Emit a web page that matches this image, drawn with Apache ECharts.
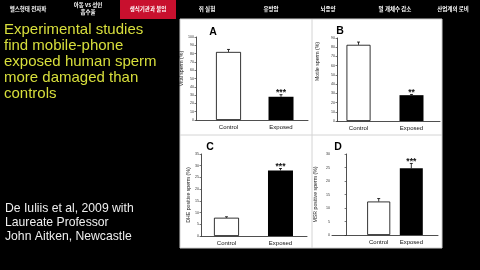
<!DOCTYPE html>
<html><head><meta charset="utf-8">
<script src="https://cdn.jsdelivr.net/npm/echarts@6/dist/echarts.min.js"></script>
<style>html,body{margin:0;padding:0;background:#000;}#c{width:480px;height:270px;}</style>
</head><body><div id="c"></div>
<script>
// ---- data ----
const categories = ['Control', 'Exposed'];
const panelLetters = ['A', 'B', 'C', 'D'];
const yNames = ['Vital sperm (%)', 'Motile sperm (%)', 'DHE positive sperm (%)', 'MSR positive sperm (%)'];
const meanA = [82, 28];   const errA = [3, 2.5];
const meanB = [82.6, 28]; const errB = [3, 0.8];
const meanC = [7.8, 28];  const errC = [0.4, 0.8];
const meanD = [12.4, 24.7]; const errD = [1.1, 1.8];
const sigA = ['', '***'];
const sigB = ['', '**'];
const sigC = ['', '***'];
const sigD = ['', '***'];
const yMax = [100, 90, 35, 30];
const yStep = [10, 10, 5, 5];
const menuLabels = ['헬스형태 전자파', '아동 vs 성인\n흡수율', '생식기관과 불임', '쥐 실험', '유방암', '뇌종양', '벌 개체수 감소', '산업계의 로비'];
const headline = ['Experimental studies', 'find mobile-phone', 'exposed human sperm', 'more damaged than', 'controls'];
const credit = ['De Iuliis et al, 2009 with', 'Laureate Professor', 'John Aitken, Newcastle'];

// ---- layout ----
const means = [meanA, meanB, meanC, meanD];
const errs = [errA, errB, errC, errD];
const sigs = [sigA, sigB, sigC, sigD];
const grids = [
  {left: 196, top: 37, width: 112, height: 83},
  {left: 337, top: 38, width: 103, height: 83},
  {left: 201, top: 154, width: 106, height: 82},
  {left: 332, top: 154, width: 106, height: 81}
];
const xRange = [[0.381, 2.514], [0.594, 2.538], [0.528, 2.491], [-0.433, 2.819]];
const barW = [25, 24, 25, 23];
const nameGaps = [7.5, 17, 9.5, 13.5];
const nameShift = [20, 36, 0, 0];
const letterPos = [[213, 32], [340, 31], [210, 147], [338, 147]];
const menuX = [28, 88, 148, 207, 271, 328, 395, 453];
const FONT = 'Liberation Sans';

const chart = echarts.init(document.getElementById('c'), null, {renderer: 'canvas'});

const xAxis = [], yAxis = [], series = [];
grids.forEach((g, i) => {
  xAxis.push({
    type: 'value', gridIndex: i, min: xRange[i][0], max: xRange[i][1],
    axisLine: {show: true, onZero: false, lineStyle: {color: '#222', width: 0.8}},
    axisTick: {show: false}, splitLine: {show: false},
    axisLabel: {customValues: [1, 2], formatter: v => categories[Math.round(v) - 1] || '',
      fontSize: 6, color: '#111', margin: 4, fontFamily: FONT}
  });
  yAxis.push({
    type: 'value', gridIndex: i, min: 0, max: yMax[i], interval: yStep[i],
    axisLine: {show: true, lineStyle: {color: '#222', width: 0.8}},
    axisTick: {show: true, length: 1.5, lineStyle: {color: '#222', width: 0.6}},
    splitLine: {show: false},
    axisLabel: {fontSize: 3.6, color: '#333', margin: 2, fontFamily: FONT},
    name: yNames[i], nameLocation: 'middle', nameGap: nameGaps[i],
    nameTextStyle: {fontSize: 5.2, color: '#222', fontFamily: FONT, padding: [0, 0, 0, nameShift[i]]}
  });
  series.push({
    type: 'bar', xAxisIndex: i, yAxisIndex: i, barWidth: barW[i], silent: true,
    data: means[i].map((m, k) => ({
      value: [k + 1, m],
      itemStyle: k === 0 ? {color: '#fff', borderColor: '#000', borderWidth: 0.8} : {color: '#000'}
    }))
  });
  series.push({
    type: 'custom', xAxisIndex: i, yAxisIndex: i, silent: true, z: 5,
    data: means[i].map((m, k) => [k + 1, m, m + errs[i][k], k]),
    renderItem: (params, api) => {
      const k = api.value(3);
      const p0 = api.coord([api.value(0), api.value(1)]);
      const p1 = api.coord([api.value(0), api.value(2)]);
      const w = 1.5;
      const ch = [
        {type: 'line', shape: {x1: p0[0], y1: p0[1], x2: p1[0], y2: p1[1]}, style: {stroke: '#000', lineWidth: 0.8}},
        {type: 'line', shape: {x1: p1[0] - w, y1: p1[1], x2: p1[0] + w, y2: p1[1]}, style: {stroke: '#000', lineWidth: 0.8}}
      ];
      const s = sigs[i][k];
      if (s) ch.push({type: 'text', style: {text: s, x: p1[0], y: p1[1] - 2, align: 'center', verticalAlign: 'middle',
        font: 'bold 8.5px ' + FONT, fill: '#111'}});
      return {type: 'group', children: ch};
    }
  });
});

const graphics = [
  {type: 'rect', shape: {x: 180, y: 19, width: 262, height: 229}, style: {fill: '#fff', stroke: '#cfcfcf', lineWidth: 1}, z: -10},
  {type: 'line', shape: {x1: 312, y1: 19, x2: 312, y2: 248}, style: {stroke: '#d4d4d4', lineWidth: 1}, z: -9},
  {type: 'line', shape: {x1: 180, y1: 135, x2: 442, y2: 135}, style: {stroke: '#d4d4d4', lineWidth: 1}, z: -9},
  {type: 'rect', shape: {x: 120, y: 0, width: 56, height: 19}, style: {fill: '#c8102e'}, z: -9}
];
panelLetters.forEach((t, i) => graphics.push({type: 'text', x: letterPos[i][0], y: letterPos[i][1],
  style: {text: t, font: 'bold 10.5px ' + FONT, fill: '#000', align: 'center', verticalAlign: 'middle'}}));
menuLabels.forEach((t, i) => graphics.push({type: 'text', x: menuX[i], y: 8.5,
  style: {text: t, font: 'bold 5.5px "Noto Sans CJK KR"', fill: '#fff', align: 'center', verticalAlign: 'middle', lineHeight: 7}}));

chart.setOption({
  backgroundColor: '#000',
  animation: false,
  title: [
    {text: headline.join('\n'), left: 4, top: 22, textStyle: {color: '#d8df3c', fontSize: 15, lineHeight: 16, fontWeight: 'normal', fontFamily: FONT}, padding: 0},
    {text: credit.join('\n'), left: 5, top: 202, textStyle: {color: '#eeeeee', fontSize: 12.2, lineHeight: 14, fontWeight: 'normal', fontFamily: FONT}, padding: 0}
  ],
  grid: grids.map(g => Object.assign({containLabel: false}, g)),
  xAxis, yAxis, series,
  graphic: {elements: graphics}
});
</script></body></html>
